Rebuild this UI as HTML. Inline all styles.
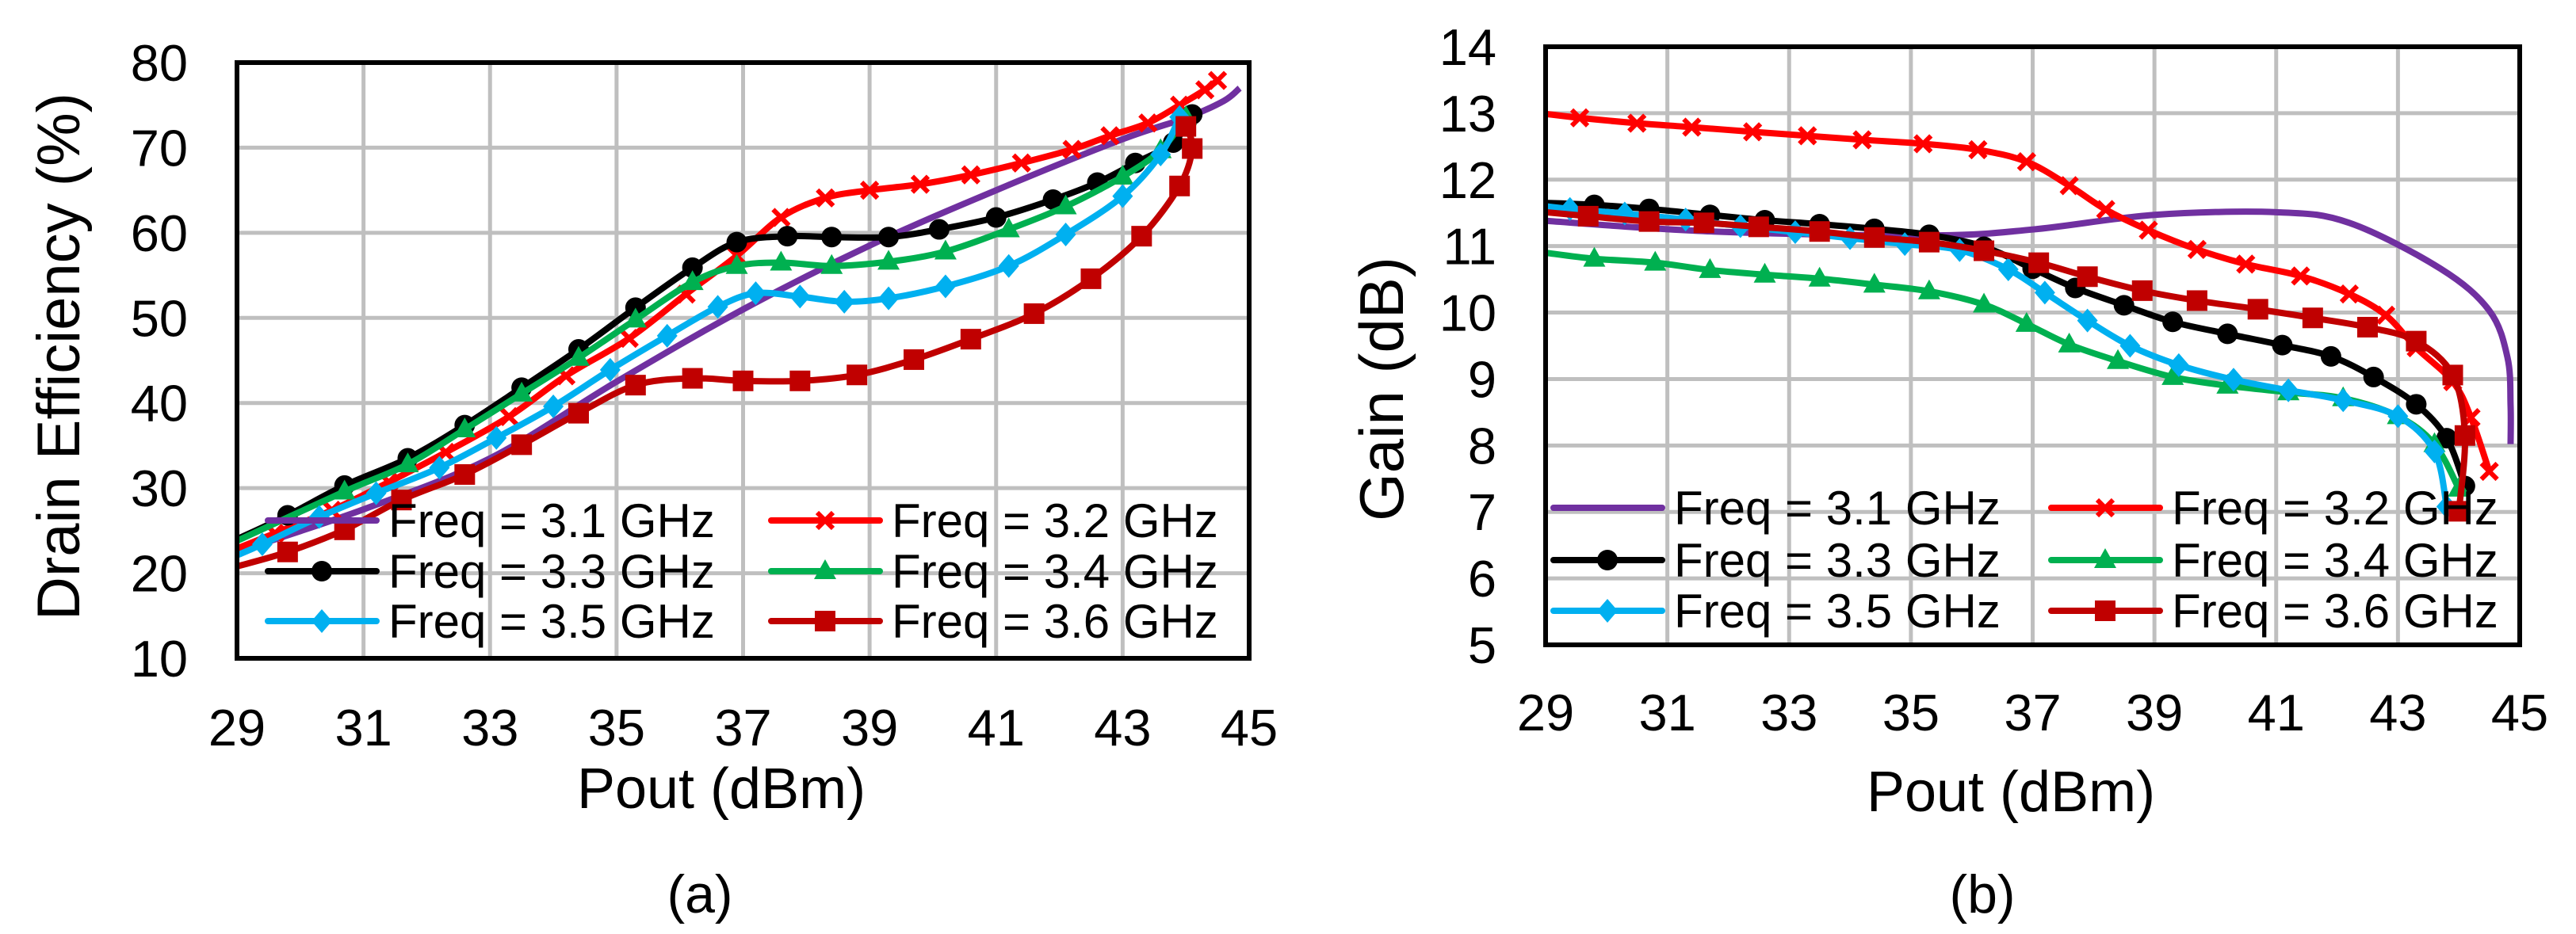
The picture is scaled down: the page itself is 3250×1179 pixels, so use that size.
<!DOCTYPE html>
<html><head><meta charset="utf-8"><style>
html,body{margin:0;padding:0;background:#fff;}
svg{display:block;font-family:"Liberation Sans",Arial,sans-serif;}
</style></head><body>
<svg id="fig" width="3250" height="1179" viewBox="0 0 3250 1179" xmlns="http://www.w3.org/2000/svg">
<defs>
<clipPath id="clipA"><rect x="299" y="79" width="1277" height="752"/></clipPath>
<clipPath id="clipB"><rect x="1950" y="59" width="1229" height="755"/></clipPath>
</defs>
</svg>
<script>
const xTicks=[29,31,33,35,37,39,41,43,45];
const effTicks=[10,20,30,40,50,60,70,80];
const gainTicks=[5,6,7,8,9,10,11,12,13,14];
const seriesNames=["Freq = 3.1 GHz","Freq = 3.2 GHz","Freq = 3.3 GHz","Freq = 3.4 GHz","Freq = 3.5 GHz","Freq = 3.6 GHz"];
// Efficiency data (a)
const eff31X=[28.8,29,31,33,35,37,39,41,43,44,44.6,44.85];
const eff31Y=[21.8,22.5,27.5,33.5,42.5,51,58.5,65,71,73.5,75.5,77];
const eff32X=[29,29.6,30.5,31.4,32.3,33.3,34.2,35.2,36.1,36.9,37.6,38.3,39,39.8,40.6,41.4,42.2,42.8,43.4,43.9,44.3,44.5];
const eff32Y=[22.9,24.7,27.4,30.7,34.2,38.4,43.2,47.6,52.8,57.3,61.8,64.1,65,65.7,66.8,68.2,69.8,71.4,72.9,75,76.8,77.9];
const eff33X=[29,29.8,30.7,31.7,32.6,33.5,34.4,35.3,36.2,36.9,37.7,38.4,39.3,40.1,41,41.9,42.6,43.2,43.8,44.1];
const eff33Y=[24,26.8,30.3,33.5,37.4,41.8,46.3,51.2,55.9,58.9,59.6,59.5,59.5,60.4,61.8,63.9,65.9,68.2,70.6,73.9];
const eff34X=[29,30.7,31.7,32.6,33.5,34.4,35.3,36.2,36.9,37.6,38.4,39.3,40.2,41.2,42.1,43,43.6,44];
const eff34Y=[23.8,29.6,32.8,36.9,41.1,45.3,49.8,54.2,56.1,56.5,56.1,56.6,57.8,60.4,63.1,66.6,69.7,73.6];
const eff35X=[29,29.4,30.3,31.2,32.2,33.1,34,34.9,35.8,36.6,37.2,37.9,38.6,39.3,40.2,41.2,42.1,43,43.6,43.9];
const eff35Y=[22.1,23.4,26.6,29.4,32.4,35.9,39.6,43.9,47.9,51.3,52.9,52.5,51.9,52.3,53.7,56.1,59.8,64.3,69.2,73.6];
const eff36X=[29,29.8,30.7,31.6,32.6,33.5,34.4,35.3,36.2,37,37.9,38.8,39.7,40.6,41.6,42.5,43.3,43.9,44.1,44];
const eff36Y=[20.8,22.5,25.1,28.6,31.6,35.1,38.8,42.1,42.9,42.6,42.6,43.3,45.1,47.5,50.5,54.6,59.6,65.5,69.9,72.5];
// Gain data (b)
const g31X=[28.8,29,31.75,35.3,37,39,41,42.2,43.7,44.5,44.8,44.85,44.85];
const g31Y=[11.4,11.38,11.22,11.16,11.25,11.47,11.51,11.35,10.66,10.03,9.32,8.6,8.02];
const g32X=[29,29.56,30.5,31.4,32.4,33.3,34.2,35.2,36.1,36.9,37.6,38.2,38.9,39.7,40.5,41.4,42.2,42.8,43.3,43.9,44.2,44.5];
const g32Y=[12.99,12.93,12.85,12.79,12.72,12.66,12.6,12.54,12.45,12.27,11.91,11.55,11.24,10.95,10.73,10.55,10.28,9.96,9.47,8.96,8.42,7.61];
const g33X=[29,29.8,30.7,31.7,32.6,33.5,34.4,35.3,36.2,37,37.7,38.5,39.3,40.2,41.1,41.9,42.6,43.3,43.8,44.1];
const g33Y=[11.65,11.62,11.56,11.47,11.39,11.33,11.26,11.17,10.99,10.66,10.37,10.11,9.86,9.68,9.51,9.34,9.03,8.62,8.11,7.39];
const g34X=[29,29.8,30.8,31.7,32.6,33.5,34.4,35.3,36.2,36.9,37.6,38.4,39.3,40.2,41.2,42.1,43,43.6,44];
const g34Y=[10.9,10.81,10.75,10.64,10.57,10.51,10.42,10.32,10.12,9.83,9.52,9.27,9.03,8.9,8.8,8.71,8.44,8.02,7.35];
const g35X=[29,29.4,30.3,31.3,32.2,33.1,34,34.9,35.8,36.6,37.2,37.9,38.6,39.4,40.3,41.2,42.1,43,43.6,43.8];
const g35Y=[11.6,11.56,11.49,11.4,11.3,11.21,11.12,11.03,10.94,10.65,10.3,9.88,9.5,9.21,8.99,8.83,8.68,8.44,7.91,7.08];
const g36X=[29,29.7,30.7,31.6,32.5,33.5,34.4,35.3,36.2,37.1,37.9,38.8,39.7,40.7,41.6,42.5,43.3,43.9,44.1,44];
const g36Y=[11.51,11.45,11.37,11.35,11.29,11.22,11.13,11.06,10.93,10.75,10.54,10.33,10.18,10.05,9.92,9.78,9.57,9.06,8.15,7.01];

const NS="http://www.w3.org/2000/svg";
const svg=document.getElementById('fig');
const colors=["#7030A0","#FF0000","#000000","#00B050","#00B0F0","#C00000"];
const markers=["none","x","circle","triangle","diamond","square"];
function el(tag,attrs,parent){const e=document.createElementNS(NS,tag);for(const k in attrs)e.setAttribute(k,attrs[k]);(parent||svg).appendChild(e);return e;}
function smoothPath(pts){
  let d="M"+pts[0][0]+","+pts[0][1];
  for(let i=0;i<pts.length-1;i++){
    const p0=pts[i-1]||pts[i],p1=pts[i],p2=pts[i+1],p3=pts[i+2]||p2;
    const t=0.5/3;
    d+=" C"+(p1[0]+(p2[0]-p0[0])*t)+","+(p1[1]+(p2[1]-p0[1])*t)+" "+(p2[0]-(p3[0]-p1[0])*t)+","+(p2[1]-(p3[1]-p1[1])*t)+" "+p2[0]+","+p2[1];
  }
  return d;
}
function marker(g,type,x,y,c){
  let m;
  if(type==="circle")m=el('circle',{cx:x,cy:y,r:13,fill:c},g);
  else if(type==="square")m=el('rect',{x:x-13,y:y-13,width:26,height:26,fill:c},g);
  else if(type==="triangle")m=el('polygon',{points:`${x},${y-15} ${x+14},${y+10} ${x-14},${y+10}`,fill:c},g);
  else if(type==="diamond")m=el('polygon',{points:`${x},${y-15} ${x+13},${y} ${x},${y+15} ${x-13},${y}`,fill:c},g);
  else if(type==="x")m=el('path',{d:`M${x-10},${y-10}L${x+10},${y+10}M${x+10},${y-10}L${x-10},${y+10}`,stroke:c,'stroke-width':6,fill:'none'},g);
  if(m){}
}
function chart(cfg){
  const {L,T,R,B,ymin,ymax,yTicks,series,clip,id}=cfg;
  const sx=v=>L+(v-29)/(45-29)*(R-L);
  const sy=v=>B-(v-ymin)/(ymax-ymin)*(B-T);
  const g=el('g',{});
  
  
  for(const t of xTicks){const l=el('line',{x1:sx(t),x2:sx(t),y1:T,y2:B,stroke:'#BFBFBF','stroke-width':5},g);
    }
  for(const t of yTicks){const l=el('line',{x1:L,x2:R,y1:sy(t),y2:sy(t),stroke:'#BFBFBF','stroke-width':5},g);
    }
  for(const t of xTicks){const tx=el('text',{x:sx(t),y:B+cfg.xLabOff,'font-size':65,'text-anchor':'middle',fill:'#000'},g);tx.textContent=t;
    }
  for(const t of yTicks){const tx=el('text',{x:L-62,y:sy(t)+23,'font-size':65,'text-anchor':'end',fill:'#000'},g);tx.textContent=t;
    }
  const sg=el('g',{'clip-path':`url(#${clip})`},g);
  series.forEach((s,i)=>{
    const pts=s[0].map((x,k)=>[sx(x),sy(s[1][k])]);
    const p=el('path',{d:smoothPath(pts),stroke:colors[i],'stroke-width':8,fill:'none','stroke-linejoin':'round'},sg);
    
    
    s[0].forEach((x,k)=>{if(x>29.05)marker(sg,markers[i],pts[k][0],pts[k][1],colors[i]);});
  });
  cfg.legRows.forEach((ly,r)=>{
    [0,1].forEach(c=>{
      const i=r*2+c;
      const lx=cfg.legCols[c];
      const lg=el('g',{},g);
      
      
      el('line',{x1:lx,x2:lx+137,y1:ly,y2:ly,stroke:colors[i],'stroke-width':8,'stroke-linecap':'round'},lg);
      marker(lg,markers[i],lx+68,ly,colors[i]);
      const tx=el('text',{x:lx+152,y:ly+21,'font-size':60,fill:'#000'},lg);tx.textContent=seriesNames[i];
    });
  });
  const f=el('rect',{x:L,y:T,width:R-L,height:B-T,fill:'none',stroke:'#000','stroke-width':6},g);
  
}
chart({id:'efficiency',L:299,T:79,R:1576,B:831,ymin:10,ymax:80,yTicks:effTicks,clip:'clipA',xLabOff:110,
  legRows:[657,721,784],legCols:[338,973],
  series:[[eff31X,eff31Y],[eff32X,eff32Y],[eff33X,eff33Y],[eff34X,eff34Y],[eff35X,eff35Y],[eff36X,eff36Y]]});
chart({id:'gain',L:1950,T:59,R:3179,B:814,ymin:5,ymax:14,yTicks:gainTicks,clip:'clipB',xLabOff:108,
  legRows:[641,707,771],legCols:[1960,2588],
  series:[[g31X,g31Y],[g32X,g32Y],[g33X,g33Y],[g34X,g34Y],[g35X,g35Y],[g36X,g36Y]]});
function label(txt,x,y,size,name,rot){
  const t=el('text',{x:x,y:y,'font-size':size,'text-anchor':'middle',fill:'#000'});
  if(rot)t.setAttribute('transform',`rotate(-90 ${x} ${y})`);
  t.textContent=txt;
  
  
}
label('Drain Efficiency (%)',100,450,76,'y-axis-title-efficiency',true);
label('Pout (dBm)',910,1020,72,'x-axis-title-efficiency');
label('(a)',883,1152,68,'caption-a');
label('Gain (dB)',1770,491,78,'y-axis-title-gain',true);
label('Pout (dBm)',2537,1024,72,'x-axis-title-gain');
label('(b)',2501,1152,68,'caption-b');
</script>
</body></html>
